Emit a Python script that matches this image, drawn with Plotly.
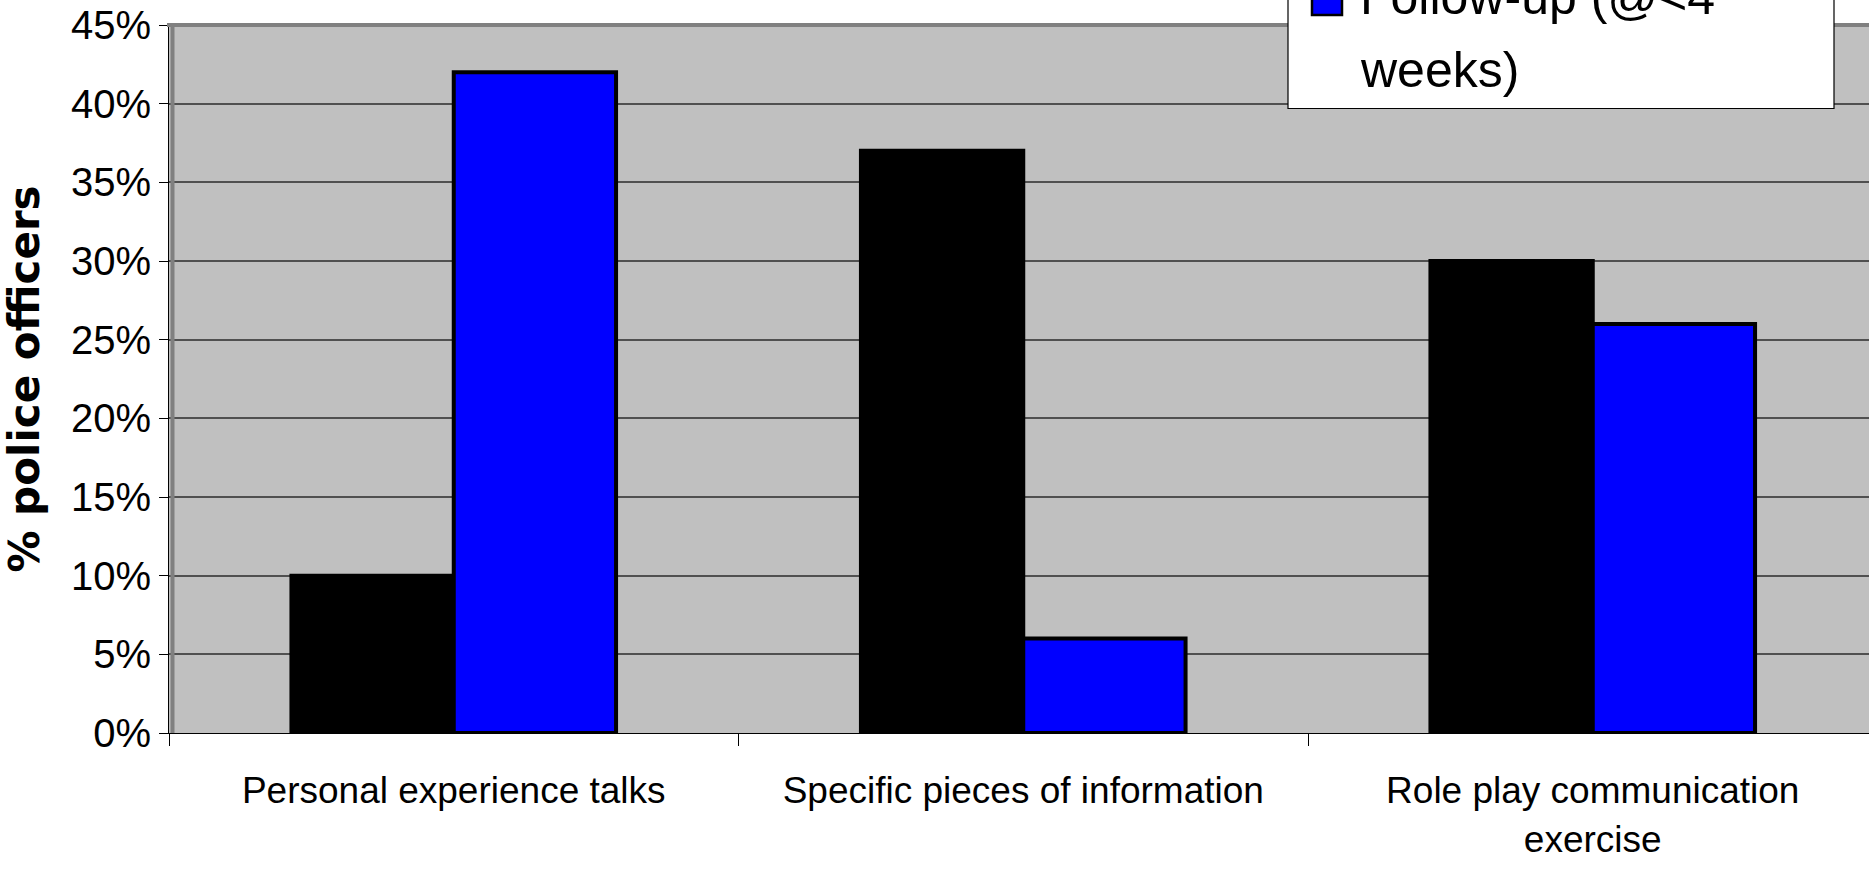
import plotly.graph_objects as go

# Training components and the share of officers naming each one
categories = [
    "Personal experience talks",
    "Specific pieces of information",
    "Role play communication<br>exercise",
]
post_training = [0.10, 0.37, 0.30]
follow_up = [0.42, 0.06, 0.26]

y_tick_values = [0.00, 0.05, 0.10, 0.15, 0.20, 0.25, 0.30, 0.35, 0.40, 0.45]
y_tick_labels = ["0%", "5%", "10%", "15%", "20%", "25%", "30%", "35%", "40%", "45%"]

follow_up_label_lines = ["Follow-up (@&lt;4", "weeks)"]

W, H = 1869, 869
L, R, T, B = 169, 0, 25, 136
PLOT_W = W - L - R
PLOT_H = H - T - B
CATEGORY_PX = 569.5


def px_x(px):
    """Pixel column -> paper x."""
    return (px - L) / PLOT_W


def px_y(py):
    """Pixel row -> paper y."""
    return (H - B - py) / PLOT_H


FONT = "Liberation Sans, Arial, sans-serif"

fig = go.Figure()
fig.add_trace(go.Bar(
    x=categories, y=post_training, name="Post-training",
    marker=dict(color="#000000", line=dict(color="#000000", width=4)),
    showlegend=False,
))
fig.add_trace(go.Bar(
    x=categories, y=follow_up, name="Follow-up (@<4 weeks)",
    marker=dict(color="#0000FF", line=dict(color="#000000", width=4)),
    showlegend=False,
))

shapes = [
    # grey frame along the top and left of the plotting area
    dict(type="line", xref="paper", yref="paper", x0=px_x(167), x1=1.01, y0=1, y1=1,
         line=dict(color="#808080", width=4), layer="above"),
    dict(type="line", xref="paper", yref="paper", x0=px_x(172.5), x1=px_x(172.5), y0=0, y1=1,
         line=dict(color="#808080", width=4), layer="above"),
    # legend box
    dict(type="rect", xref="paper", yref="paper", x0=px_x(1288), x1=px_x(1834),
         y0=px_y(108.5), y1=px_y(-60), fillcolor="#FFFFFF",
         line=dict(color="#000000", width=1.2), layer="above"),
    dict(type="rect", xref="paper", yref="paper", x0=px_x(1312), x1=px_x(1342),
         y0=px_y(15), y1=px_y(-15), fillcolor="#0000FF",
         line=dict(color="#000000", width=2.5), layer="above"),
]

annotations = [
    dict(text=follow_up_label_lines[0], xref="paper", yref="paper",
         x=px_x(1358), y=px_y(-3), xanchor="left", yanchor="middle", showarrow=False,
         font=dict(family=FONT, size=50, color="#000000")),
    dict(text=follow_up_label_lines[1], xref="paper", yref="paper",
         x=px_x(1358), y=px_y(70), xanchor="left", yanchor="middle", showarrow=False,
         font=dict(family=FONT, size=50, color="#000000")),
]

fig.update_layout(
    width=W, height=H,
    margin=dict(l=L, r=R, t=T, b=B, autoexpand=False),
    paper_bgcolor="#FFFFFF",
    plot_bgcolor="#C0C0C0",
    barmode="group",
    bargap=0.43,
    bargroupgap=0.0,
    shapes=shapes,
    annotations=annotations,
    showlegend=False,
    xaxis=dict(
        type="category",
        range=[-0.5, -0.5 + PLOT_W / CATEGORY_PX],
        tickson="boundaries",
        ticks="outside", ticklen=12, tickcolor="#000000", tickwidth=1,
        showline=True, linecolor="#000000", linewidth=1,
        showgrid=False, zeroline=False,
        ticklabelstandoff=25,
        tickfont=dict(family=FONT, size=37, color="#000000"),
    ),
    yaxis=dict(
        range=[0, 0.45],
        tickmode="array",
        tickvals=y_tick_values,
        ticktext=y_tick_labels,
        ticks="outside", ticklen=9, tickcolor="#000000", tickwidth=1,
        showline=True, linecolor="#000000", linewidth=1,
        showgrid=True, gridcolor="#505050", gridwidth=1.5,
        zeroline=False,
        ticklabelstandoff=0,
        tickfont=dict(family=FONT, size=40, color="#000000"),
        title=dict(text="% police officers", standoff=22,
                   font=dict(family="DejaVu Sans, sans-serif", size=42,
                             color="#000000", weight="bold")),
    ),
)

fig.write_html("out.html")
